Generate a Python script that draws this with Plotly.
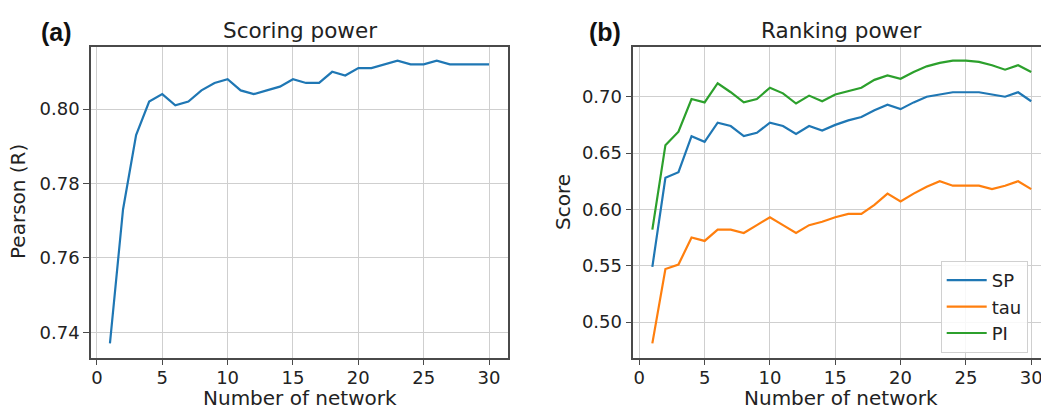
import plotly.graph_objects as go

# ---------------- data ----------------
n_networks = list(range(1, 31))

pearson_r = [0.737, 0.773, 0.793, 0.802, 0.804, 0.801, 0.802, 0.805, 0.807, 0.808,
             0.805, 0.804, 0.805, 0.806, 0.808, 0.807, 0.807, 0.810, 0.809, 0.811,
             0.811, 0.812, 0.813, 0.812, 0.812, 0.813, 0.812, 0.812, 0.812, 0.812]

sp = [0.549, 0.628, 0.633, 0.665, 0.660, 0.677, 0.674, 0.665, 0.668, 0.677,
      0.674, 0.667, 0.674, 0.670, 0.675, 0.679, 0.682, 0.688, 0.693, 0.689,
      0.695, 0.700, 0.702, 0.704, 0.704, 0.704, 0.702, 0.700, 0.704, 0.696]

tau = [0.481, 0.547, 0.551, 0.575, 0.572, 0.582, 0.582, 0.579, 0.586, 0.593,
       0.586, 0.579, 0.586, 0.589, 0.593, 0.596, 0.596, 0.604, 0.614, 0.607,
       0.614, 0.620, 0.625, 0.621, 0.621, 0.621, 0.618, 0.621, 0.625, 0.618]

pi = [0.582, 0.657, 0.669, 0.698, 0.695, 0.712, 0.704, 0.695, 0.698, 0.708,
      0.703, 0.694, 0.701, 0.696, 0.702, 0.705, 0.708, 0.715, 0.719, 0.716,
      0.722, 0.727, 0.730, 0.732, 0.732, 0.731, 0.728, 0.724, 0.728, 0.722]

x_ticks = [0, 5, 10, 15, 20, 25, 30]
left_y_ticks = [0.74, 0.76, 0.78, 0.80]
right_y_ticks = [0.50, 0.55, 0.60, 0.65, 0.70]

series_names = ["SP", "tau", "PI"]
series_colors = ["#1f77b4", "#ff7f0e", "#2ca02c"]

# ---------------- figure ----------------
W, H = 1041, 410
FONT = "DejaVu Sans"
FRAME = "#4a4a4a"
GRID = "#cfcfcf"

fig = go.Figure()

fig.add_trace(go.Scatter(x=n_networks, y=pearson_r, mode="lines",
                         line=dict(color="#1f77b4", width=2.2),
                         showlegend=False, xaxis="x", yaxis="y"))

for name, vals, col in zip(series_names, [sp, tau, pi], series_colors):
    fig.add_trace(go.Scatter(x=n_networks, y=vals, mode="lines", name=name,
                             legendgroup=name,
                             line=dict(color=col, width=2.2),
                             xaxis="x2", yaxis="y2"))

ydom = [(H - 357.5) / H, (H - 46.5) / H]

axis_common = dict(
    showgrid=True, gridcolor=GRID, gridwidth=1.3,
    showline=True, linecolor=FRAME, linewidth=1.6,
    ticks="outside", ticklen=6, tickwidth=1.3, tickcolor=FRAME,
    tickfont=dict(family=FONT, size=18, color="#222222"),
    zeroline=False, automargin=False, ticklabeloverflow="allow",
)

fig.update_layout(
    width=W, height=H,
    margin=dict(l=0, r=0, t=0, b=0),
    paper_bgcolor="white", plot_bgcolor="white",
    xaxis=dict(domain=[91.0 / W, 508.0 / W], range=[-0.45, 31.45],
               tickvals=x_ticks, mirror=True, anchor="y", **axis_common),
    yaxis=dict(domain=ydom, range=[0.7332, 0.8168], tickvals=left_y_ticks,
               tickformat=".2f", mirror=True, anchor="x", **axis_common),
    xaxis2=dict(domain=[633.4 / W, 1.0], range=[-0.45, 30.75],
                tickvals=x_ticks, mirror=True, anchor="y2", **axis_common),
    yaxis2=dict(domain=ydom, range=[0.4685, 0.7446], tickvals=right_y_ticks,
                tickformat=".2f", mirror=False, anchor="x2", **axis_common),
    legend=dict(x=940.7 / W, y=(H - 261) / H, xanchor="left", yanchor="top",
                bgcolor="rgba(255,255,255,0.85)", bordercolor="#d0d0d0",
                borderwidth=1, font=dict(family=FONT, size=18, color="#222222"),
                tracegroupgap=0, itemwidth=40),
    showlegend=True,
)
fig.update_xaxes(ticklabelstandoff=-3)

def px_annot(text, x, y, size, bold=False, family=FONT, angle=0):
    fig.add_annotation(
        text=f"<b>{text}</b>" if bold else text,
        x=x / W, y=(H - y) / H, xref="paper", yref="paper",
        xanchor="center", yanchor="middle", showarrow=False, textangle=angle,
        font=dict(family=family, size=size, color="#111111" if bold else "#222222"),
    )

# panel labels
px_annot("(a)", 56, 32, 25, bold=True, family="Liberation Sans")
px_annot("(b)", 605, 32, 25, bold=True, family="Liberation Sans")
# titles
px_annot("Scoring power", 299.5, 31, 21.5)
px_annot("Ranking power", 841, 31, 21.5)
# axis titles
px_annot("Number of network", 299.5, 397.5, 20)
px_annot("Number of network", 841, 397.5, 20)
px_annot("Pearson (R)", 18, 202, 20, angle=-90)
px_annot("Score", 563, 202, 20, angle=-90)

fig.write_html("out.html",
               config={"displayModeBar": False},
               post_script="document.body.style.margin='0';document.body.style.overflow='hidden';")
